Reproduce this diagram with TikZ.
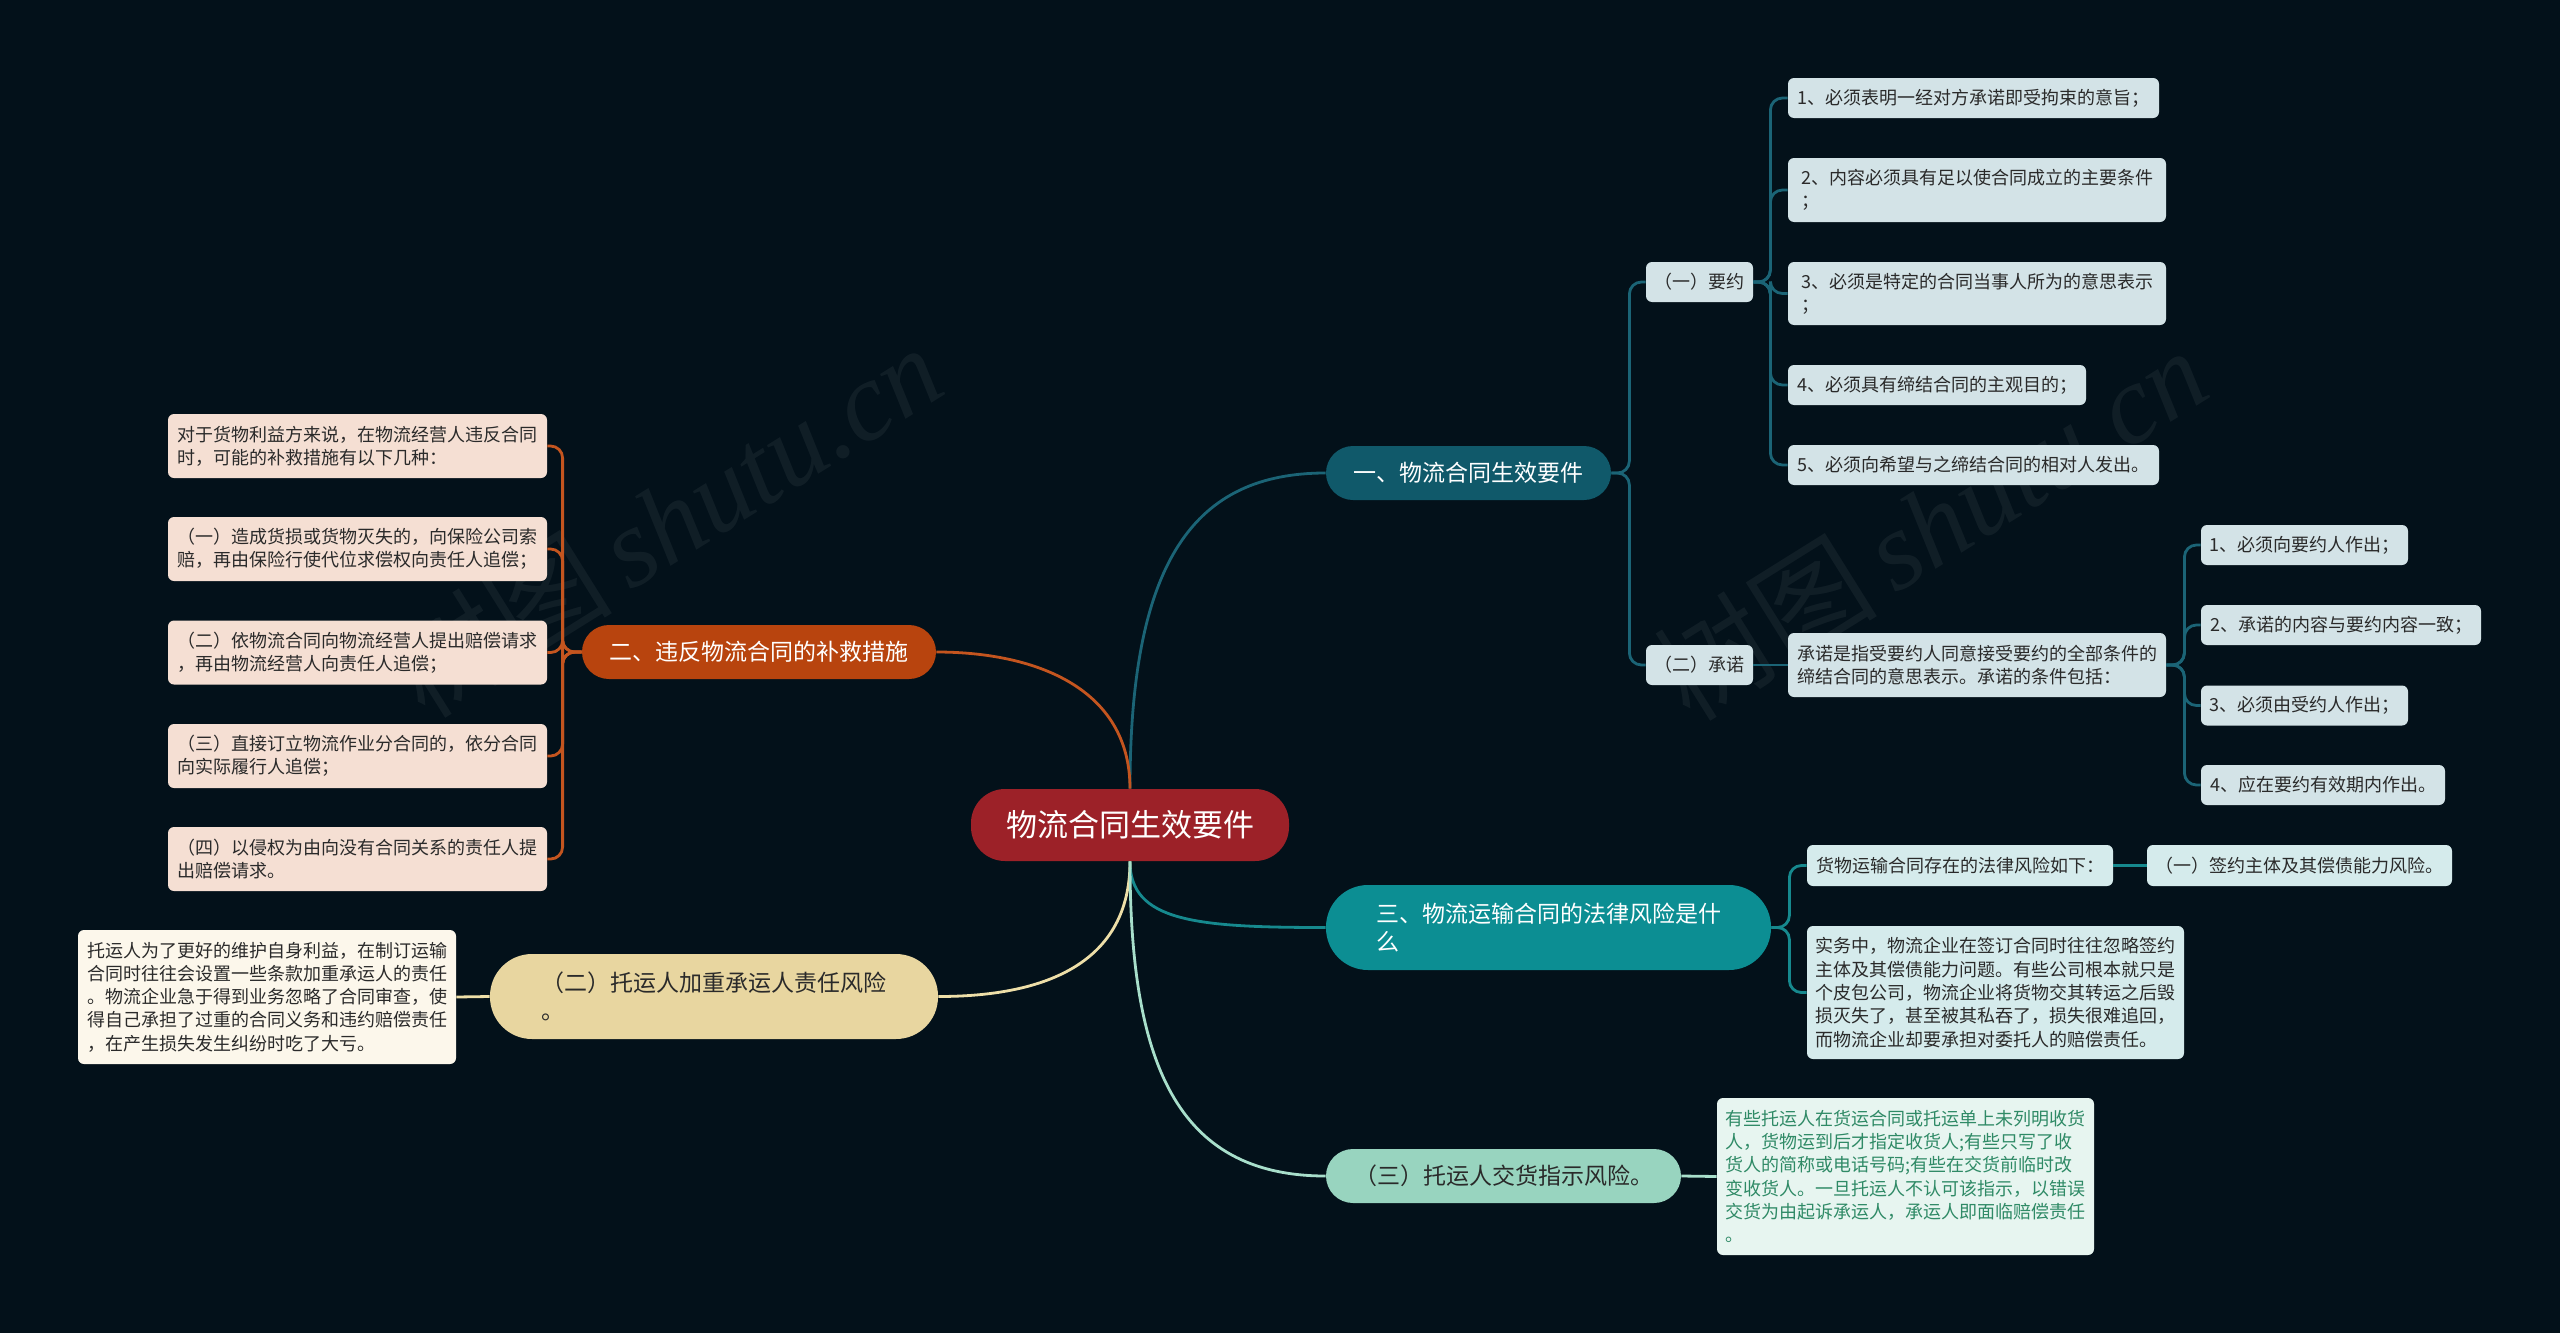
\documentclass[tikz,border=0pt]{standalone}
\usepackage{fontspec}
\setmainfont{Noto Sans CJK SC}
\newfontfamily\wmfont{Liberation Serif}
\usetikzlibrary{calc}
\definecolor{bgc}{HTML}{03111A}
\definecolor{rootc}{HTML}{9C2128}
\definecolor{b1c}{HTML}{10596A}
\definecolor{b2c}{HTML}{B8440E}
\definecolor{b3c}{HTML}{0C8E93}
\definecolor{b4c}{HTML}{E8D6A0}
\definecolor{b5c}{HTML}{98D4BF}
\definecolor{l1c}{HTML}{1B6476}
\definecolor{l2c}{HTML}{C4551F}
\definecolor{l3c}{HTML}{16898E}
\definecolor{l4c}{HTML}{EEDFA8}
\definecolor{l5c}{HTML}{A8DFCB}
\definecolor{f1c}{HTML}{D3E3E7}
\definecolor{f2c}{HTML}{F5DFD3}
\definecolor{f3c}{HTML}{D5EBEC}
\definecolor{f4c}{HTML}{FCF7EB}
\definecolor{f5c}{HTML}{E7F5F0}
\definecolor{t5c}{HTML}{2F8A66}
\definecolor{darktext}{HTML}{2A2A2A}
\begin{document}
\begin{tikzpicture}[x=0.5pt,y=-0.5pt,
  small/.style={font=\fontsize{9pt}{11.65pt}\selectfont},
  big/.style={font=\fontsize{11.5pt}{14pt}\selectfont},
  leaf/.style={small, align=left, inner sep=0pt, rounded corners=3pt, text=darktext},
  lf1/.style={leaf, fill=f1c},
  lf2/.style={leaf, fill=f2c},
  lf3/.style={leaf, fill=f3c},
  lf4/.style={leaf, fill=f4c},
  lf5/.style={leaf, fill=f5c, text=t5c},
  branch/.style={big, align=left, inner sep=0pt},
  e1/.style={draw=l1c, line width=1.4pt},
  e2/.style={draw=l2c, line width=1.4pt},
  e3/.style={draw=l3c, line width=1.4pt},
  e4/.style={draw=l4c, line width=1.4pt},
  e5/.style={draw=l5c, line width=1.4pt},
  tree/.style={rounded corners=6pt},
  wm/.style={text=white, opacity=0.055, font=\fontsize{56pt}{56pt}\selectfont, rotate=32}
]
\fill[bgc] (0,0) rectangle (2560,1333);
\useasboundingbox (0,0) rectangle (2560,1333);

% watermarks
\node[wm] (wm1) at (665,520) {树图\,{\wmfont\itshape shutu.cn}};
\node[wm] (wm2) at (1930,523) {树图\,{\wmfont\itshape shutu.cn}};

% root
\node[fill=rootc, rounded corners=17pt, minimum width=159pt, minimum height=36pt, inner sep=0pt,
      text=white, font=\fontsize{15.5pt}{18pt}\selectfont] (root) at (1130,825) {物流合同生效要件};

% main branches
\node[branch, fill=b1c, text=white, rounded corners=13.5pt, minimum width=142.5pt, minimum height=27pt] (b1) at (1468.5,473) {一、物流合同生效要件};
\node[branch, fill=b2c, text=white, rounded corners=13.5pt, minimum width=177pt, minimum height=27pt] (b2) at (759,652) {二、违反物流合同的补救措施};
\node[branch, fill=b3c, text=white, rounded corners=21pt, minimum width=222.5pt, minimum height=42.5pt] (b3) at (1548.5,927.5) {三、物流运输合同的法律风险是什\\么};
\node[branch, fill=b4c, text=darktext, rounded corners=21pt, minimum width=224pt, minimum height=42.5pt] (b4) at (714,996.5) {（二）托运人加重承运人责任风险\\。};
\node[branch, fill=b5c, text=darktext, rounded corners=13.5pt, minimum width=177.5pt, minimum height=27pt] (b5) at (1503.5,1176) {（三）托运人交货指示风险。};

% branch 1 children
\node[lf1, minimum width=53.5pt, minimum height=20pt] (y1) at (1699.5,282) {（一）要约};
\node[lf1, minimum width=185.5pt, minimum height=20pt] (i1) at (1973.5,98) {1、必须表明一经对方承诺即受拘束的意旨；};
\node[lf1, minimum width=189pt, minimum height=32pt] (i2) at (1977,190) {2、内容必须具有足以使合同成立的主要条件\\；};
\node[lf1, minimum width=189pt, minimum height=31.5pt] (i3) at (1977,293.5) {3、必须是特定的合同当事人所为的意思表示\\；};
\node[lf1, minimum width=149pt, minimum height=20pt] (i4) at (1937,385) {4、必须具有缔结合同的主观目的；};
\node[lf1, minimum width=185.5pt, minimum height=20pt] (i5) at (1973.5,465) {5、必须向希望与之缔结合同的相对人发出。};

\node[lf1, minimum width=53.5pt, minimum height=20pt] (y2) at (1699.5,665) {（二）承诺};
\node[lf1, minimum width=189pt, minimum height=32pt] (d) at (1977,665) {承诺是指受要约人同意接受要约的全部条件的\\缔结合同的意思表示。承诺的条件包括：};
\node[lf1, minimum width=103.5pt, minimum height=20pt] (j1) at (2304.5,545) {1、必须向要约人作出；};
\node[lf1, minimum width=140pt, minimum height=20pt] (j2) at (2341,625) {2、承诺的内容与要约内容一致；};
\node[lf1, minimum width=103.5pt, minimum height=20pt] (j3) at (2304.5,705.5) {3、必须由受约人作出；};
\node[lf1, minimum width=122pt, minimum height=20pt] (j4) at (2323,785) {4、应在要约有效期内作出。};

% branch 2 children
\node[lf2, minimum width=189.5pt, minimum height=32pt] (k0) at (357.5,446) {对于货物利益方来说，在物流经营人违反合同\\时，可能的补救措施有以下几种：};
\node[lf2, minimum width=189.5pt, minimum height=32pt] (k1) at (357.5,549) {（一）造成货损或货物灭失的，向保险公司索\\赔，再由保险行使代位求偿权向责任人追偿；};
\node[lf2, minimum width=189.5pt, minimum height=32pt] (k2) at (357.5,652.5) {（二）依物流合同向物流经营人提出赔偿请求\\，再由物流经营人向责任人追偿；};
\node[lf2, minimum width=189.5pt, minimum height=32pt] (k3) at (357.5,756) {（三）直接订立物流作业分合同的，依分合同\\向实际履行人追偿；};
\node[lf2, minimum width=189.5pt, minimum height=32pt] (k4) at (357.5,859) {（四）以侵权为由向没有合同关系的责任人提\\出赔偿请求。};

% branch 3 children
\node[lf3, minimum width=153pt, minimum height=20.5pt] (m1) at (1960,865.5) {货物运输合同存在的法律风险如下：};
\node[lf3, minimum width=152.5pt, minimum height=20.5pt] (m1a) at (2299.5,865.5) {（一）签约主体及其偿债能力风险。};
\node[lf3, minimum width=188.5pt, minimum height=66.5pt] (m2) at (1995.5,992.5) {实务中，物流企业在签订合同时往往忽略签约\\主体及其偿债能力问题。有些公司根本就只是\\个皮包公司，物流企业将货物交其转运之后毁\\损灭失了，甚至被其私吞了，损失很难追回，\\而物流企业却要承担对委托人的赔偿责任。};

% branch 4 child
\node[lf4, minimum width=189pt, minimum height=67pt] (n1) at (267,997) {托运人为了更好的维护自身利益，在制订运输\\合同时往往会设置一些条款加重承运人的责任\\。物流企业急于得到业务忽略了合同审查，使\\得自己承担了过重的合同义务和违约赔偿责任\\，在产生损失发生纠纷时吃了大亏。};

% branch 5 child
\node[lf5, minimum width=188.5pt, minimum height=78.5pt] (p1) at (1905.5,1176.5) {有些托运人在货运合同或托运单上未列明收货\\人，货物运到后才指定收货人;有些只写了收\\货人的简称或电话号码;有些在交货前临时改\\变收货人。一旦托运人不认可该指示，以错误\\交货为由起诉承运人，承运人即面临赔偿责任\\。};

% root edges
\draw[e1] (root.north) .. controls +(0,-230) and +(-130,0) .. (b1.west);
\draw[e2] (root.north) .. controls +(0,-100) and +(100,0) .. (b2.east);
\draw[e3] (root.south) .. controls +(0,60) and +(-130,0) .. (b3.west);
\draw[e4] (root.south) .. controls +(0,100) and +(110,0) .. (b4.east);
\draw[e5] (root.south) .. controls +(0,200) and +(-150,0) .. (b5.west);

% branch 1 tree
\draw[e1,tree] (b1.east) -- ++(18,0) |- (y1.west);
\draw[e1,tree] (b1.east) -- ++(18,0) |- (y2.west);
\foreach \c in {i1,i2,i3,i4,i5}{\draw[e1,tree] (y1.east) -- ++(17,0) |- (\c.west);}
\draw[e1] (y2.east) -- (d.west);
\foreach \c in {j1,j2,j3,j4}{\draw[e1,tree] (d.east) -- ++(18,0) |- (\c.west);}

% branch 2 tree
\foreach \c in {k0,k1,k2,k3,k4}{\draw[e2,tree] (b2.west) -- ++(-19,0) |- (\c.east);}

% branch 3 tree
\draw[e3,tree] (b3.east) -- ++(18,0) |- (m1.west);
\draw[e3,tree] (b3.east) -- ++(18,0) |- (m2.west);
\draw[e3] (m1.east) -- (m1a.west);

% branch 4, 5
\draw[e4] (b4.west) -- (n1.east);
\draw[e5] (b5.east) -- (p1.west);
\end{tikzpicture}
\end{document}
